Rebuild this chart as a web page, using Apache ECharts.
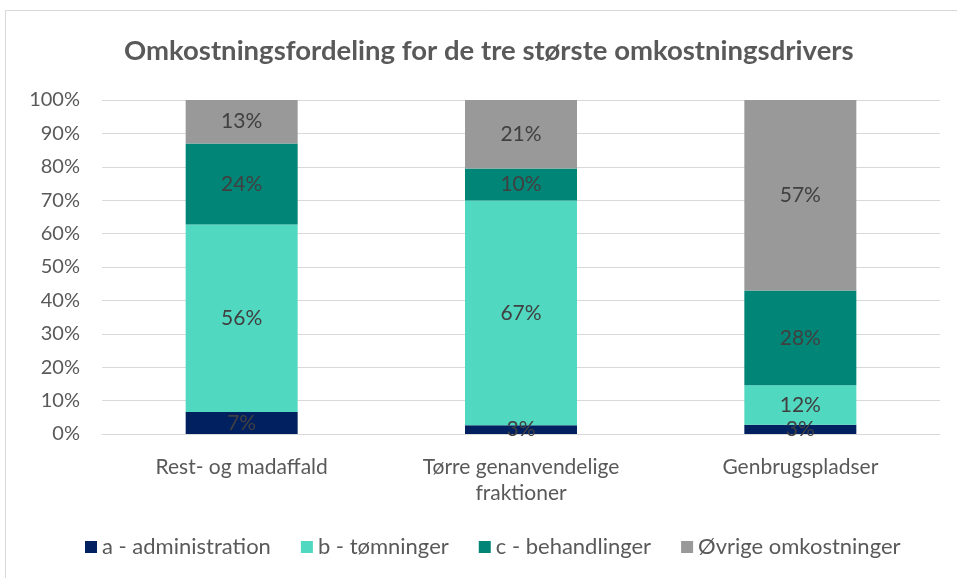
<!DOCTYPE html>
<html>
<head>
<meta charset="utf-8">
<script src="https://cdn.jsdelivr.net/npm/echarts@6/dist/echarts.min.js"></script>
<style>
  html, body { margin: 0; padding: 0; background: #fff; }
  #chart { width: 957px; height: 578px; }
</style>
</head>
<body>
<div id="chart"></div>
<script>
// Data (shares in %)
const categories = ['Rest- og madaffald', 'Tørre genanvendelige\nfraktioner', 'Genbrugspladser'];
const seriesNames = ['a - administration', 'b - tømninger', 'c - behandlinger', 'Øvrige omkostninger'];
const adminValues = [6.6, 2.6, 2.8];
const toemningValues = [56.1, 67.3, 11.8];
const behandlingValues = [24.3, 9.6, 28.4];
const oevrigeValues = [13.0, 20.5, 57.0];
const yTicks = [0, 10, 20, 30, 40, 50, 60, 70, 80, 90, 100];

const colors = ['#002060', '#50d8c0', '#008577', '#999999'];
const fontFamily = 'Lato, "Open Sans", sans-serif';

const chart = echarts.init(document.getElementById('chart'));

function makeSeries(name, data, color) {
    return {
        name: name,
        type: 'bar',
        stack: 'total',
        barWidth: 112,
        data: data,
        itemStyle: { color: color },
        label: {
            show: true,
            position: 'inside',
            color: '#404040',
            fontSize: 21,
            fontFamily: fontFamily,
            formatter: function(p) { return Math.round(p.value) + '%'; }
        }
    };
}

const option = {
    animation: false,
    color: colors,
    graphic: [{
        type: 'rect',
        shape: { x: 5.5, y: 10.5, width: 1000, height: 1000 },
        style: { fill: 'none', stroke: '#d9d9d9', lineWidth: 1 },
        silent: true
    }],
    title: {
        text: 'Omkostningsfordeling for de tre største omkostningsdrivers',
        left: 119,
        top: 32,
        textStyle: {
            color: '#595959',
            fontSize: 27.5,
            fontWeight: 'bold',
            fontFamily: fontFamily
        }
    },
    legend: {
        bottom: 15,
        left: 80,
        itemWidth: 12,
        itemHeight: 12,
        itemGap: 30,
        icon: 'rect',
        data: seriesNames,
        textStyle: { color: '#595959', fontSize: 22, fontFamily: fontFamily }
    },
    grid: {
        left: 102,
        right: 17,
        top: 100,
        bottom: 144
    },
    xAxis: {
        type: 'category',
        data: categories,
        axisLine: { lineStyle: { color: '#d9d9d9' } },
        axisTick: { show: false },
        axisLabel: {
            color: '#595959',
            fontSize: 21,
            fontFamily: fontFamily,
            margin: 20,
            lineHeight: 26
        }
    },
    yAxis: {
        type: 'value',
        min: 0,
        max: 100,
        interval: 10,
        axisLine: { show: false },
        axisTick: { show: false },
        splitLine: { lineStyle: { color: '#d9d9d9' } },
        axisLabel: {
            color: '#595959',
            fontSize: 20,
            fontFamily: fontFamily,
            margin: 22,
            customValues: yTicks,
            formatter: function(v) { return v + '%'; }
        }
    },
    series: [
        makeSeries(seriesNames[0], adminValues, colors[0]),
        makeSeries(seriesNames[1], toemningValues, colors[1]),
        makeSeries(seriesNames[2], behandlingValues, colors[2]),
        makeSeries(seriesNames[3], oevrigeValues, colors[3])
    ]
};

chart.setOption(option);
</script>
</body>
</html>
